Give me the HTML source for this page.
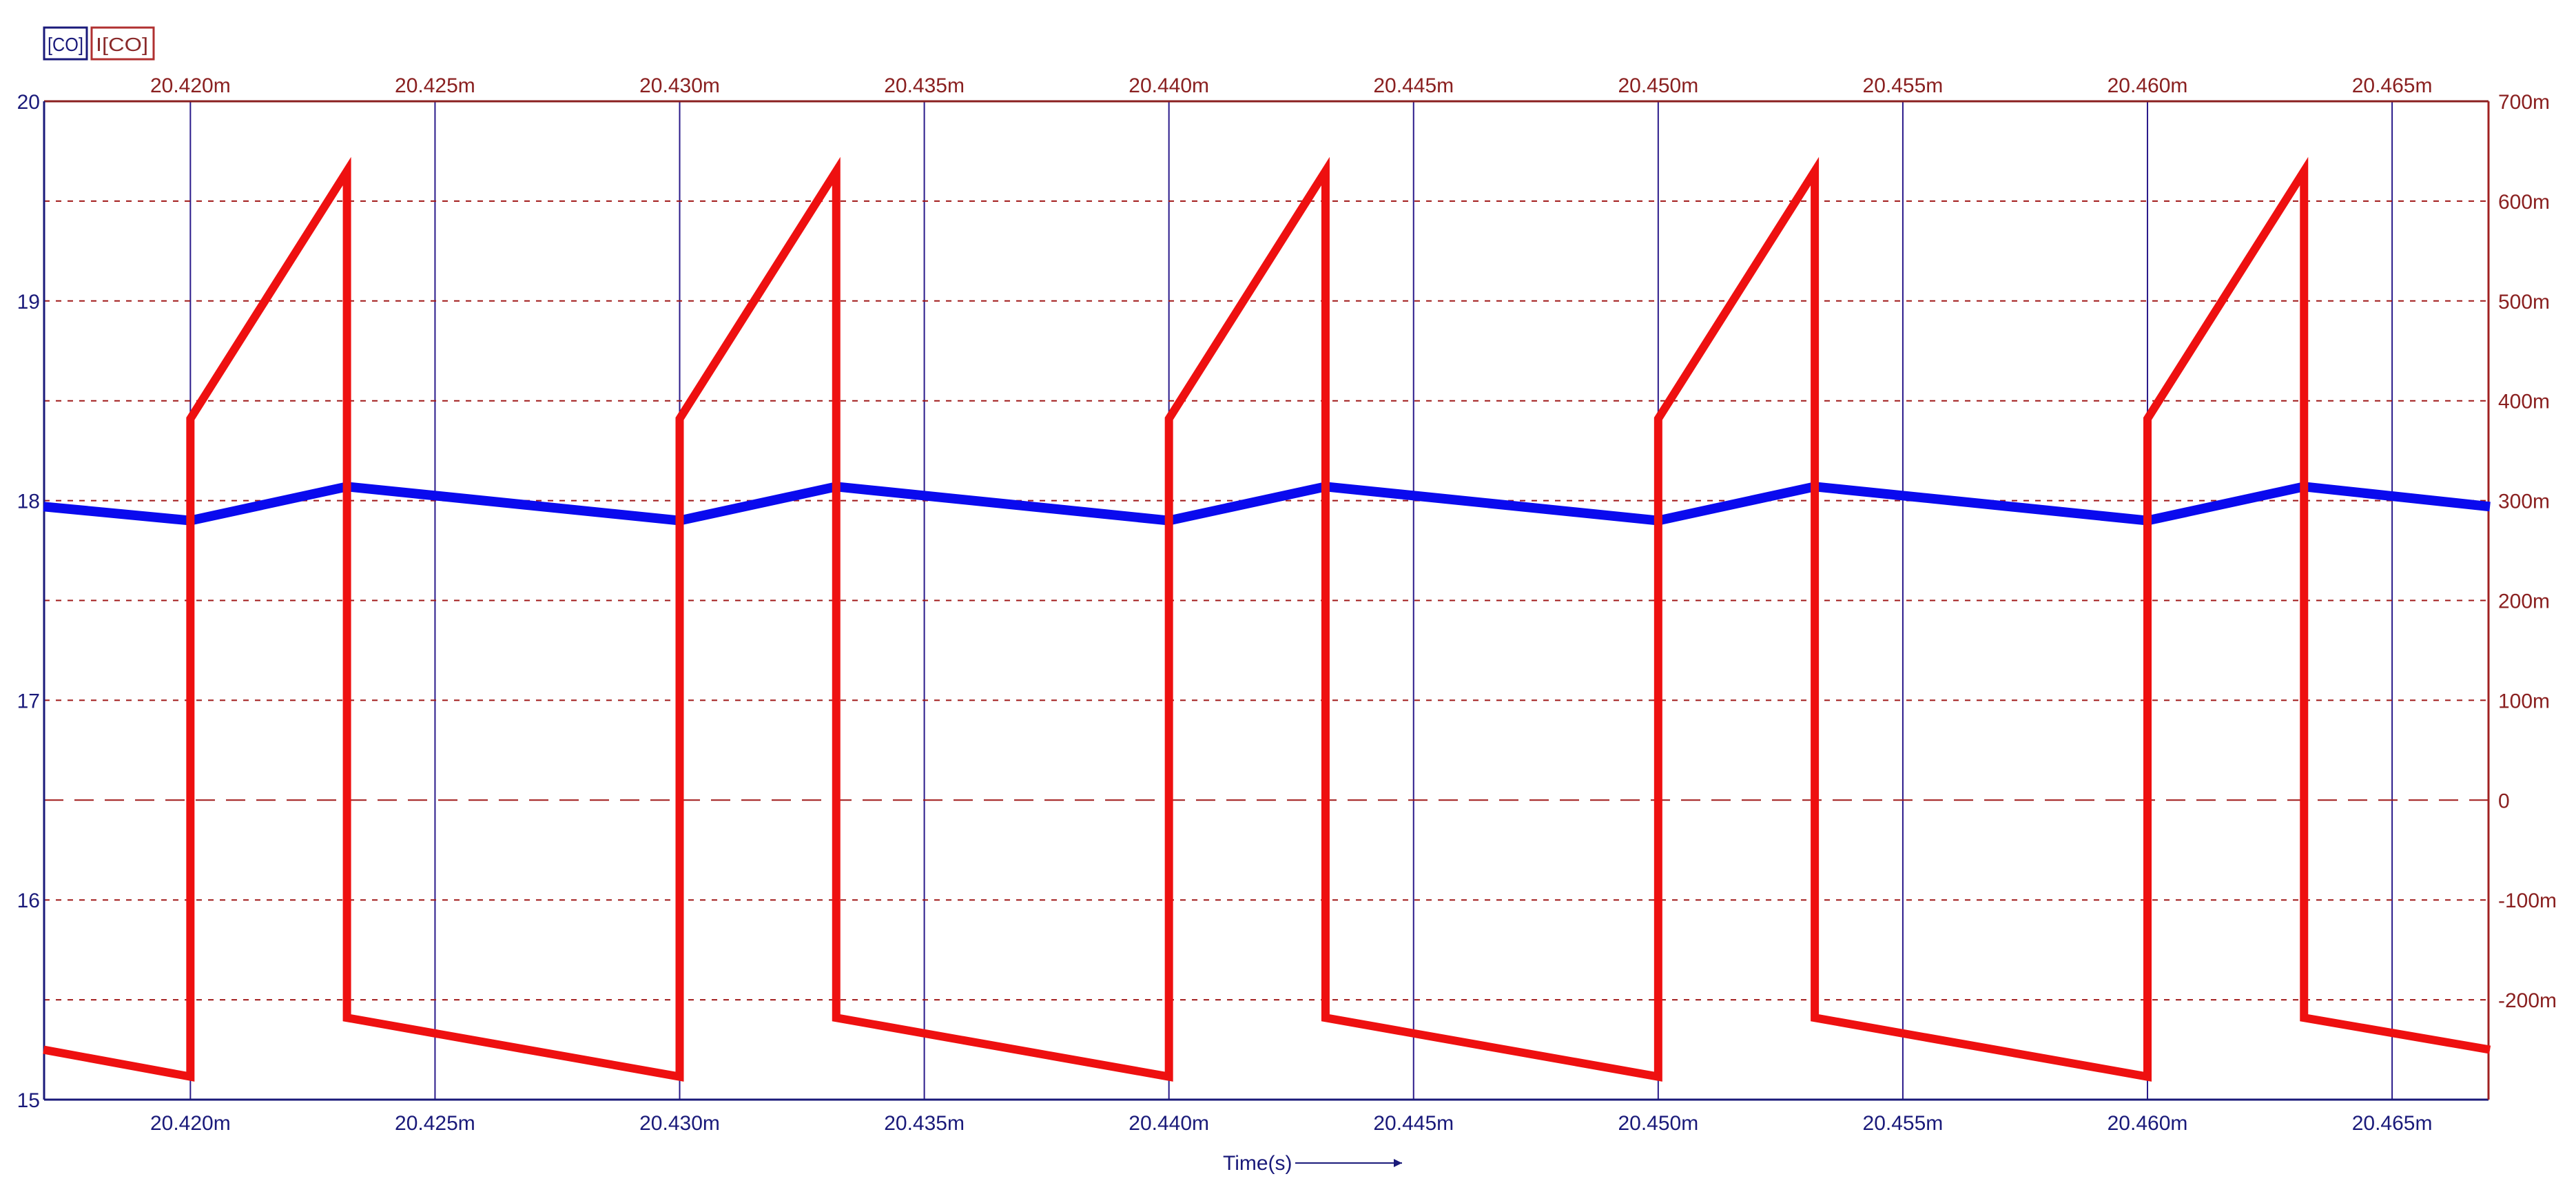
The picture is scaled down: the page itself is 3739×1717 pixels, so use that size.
<!DOCTYPE html>
<html><head><meta charset="utf-8"><style>
html,body{margin:0;padding:0;background:#fff;}
svg{display:block;font-family:"Liberation Sans",sans-serif;}
</style></head><body>
<svg id="chart" width="3739" height="1717" viewBox="0 0 3739 1717">
<g id="grid"></g>
<g id="axes"></g>
<g id="series"></g>
<g>
 <rect x="64" y="40" width="62" height="46" fill="none" stroke="#1a1a7a" stroke-width="3"/>
 <text x="69" y="74" font-size="28" fill="#1a1a7a" textLength="52" lengthAdjust="spacingAndGlyphs">[CO]</text>
 <rect x="133" y="40" width="90" height="46" fill="none" stroke="#b03030" stroke-width="3"/>
 <text x="139" y="74" font-size="28" fill="#8a2a2a" textLength="76" lengthAdjust="spacingAndGlyphs">I[CO]</text>
</g>
<text x="1775" y="1698" font-size="30" fill="#1a1a7a">Time(s)</text>
<line x1="1880" y1="1688" x2="2035" y2="1688" stroke="#1a1a7a" stroke-width="2"/>
<path d="M2035 1688 l-12 -6 v12 z" fill="#1a1a7a"/>
</svg>
<script>
const xTicks=[20.420,20.425,20.430,20.435,20.440,20.445,20.450,20.455,20.460,20.465];
const xTickLabels=["20.420m","20.425m","20.430m","20.435m","20.440m","20.445m","20.450m","20.455m","20.460m","20.465m"];
const leftTicks=[15,16,17,18,19,20];
const rightTicks=[-200,-100,0,100,200,300,400,500,600,700];
const rightTickLabels=["-200m","-100m","0","100m","200m","300m","400m","500m","600m","700m"];
const voltT=[20.417,20.420,20.4232,20.430,20.4332,20.440,20.4432,20.450,20.4532,20.460,20.4632,20.467];
const voltV=[17.97,17.90,18.07,17.90,18.07,17.90,18.07,17.90,18.07,17.90,18.07,17.97];
const currT=[20.417,20.420,20.420,20.4232,20.4232,20.430,20.430,20.4332,20.4332,20.440,20.440,20.4432,20.4432,20.450,20.450,20.4532,20.4532,20.460,20.460,20.4632,20.4632,20.467];
const currV=[-250,-277,382,630,-218,-277,382,630,-218,-277,382,630,-218,-277,382,630,-218,-277,382,630,-218,-250];

const L=64,R=3612,T=147,B=1596,t0=20.41701,t1=20.46697;
const xs=t=>L+(t-t0)/(t1-t0)*(R-L);
const yl=v=>B-(v-15)/5*(B-T);
const yr=v=>B-(v+300)/1000*(B-T);
const NS="http://www.w3.org/2000/svg";
function mk(tag,attrs,parent,txt){const e=document.createElementNS(NS,tag);for(const k in attrs)e.setAttribute(k,attrs[k]);if(txt!==undefined)e.textContent=txt;document.getElementById(parent).appendChild(e);return e;}

xTicks.forEach((t,i)=>{
 const x=xs(t);
 const g=mk('line',{x1:x,y1:T,x2:x,y2:B,stroke:'#2a1a8a','stroke-width':2},'grid');
 
 
 const a=mk('text',{x:x,y:134,'font-size':30,fill:'#8a2020','text-anchor':'middle'},'axes',xTickLabels[i]);
 
 
 const b=mk('text',{x:x,y:1640,'font-size':30,fill:'#1a1a7a','text-anchor':'middle'},'axes',xTickLabels[i]);
 
 
});
rightTicks.forEach((v,i)=>{
 const y=yr(v);
 if(v!==700){
  const g=mk('line',{x1:L,y1:y,x2:R,y2:y,stroke:'#a01818','stroke-width':2,'stroke-dasharray':v===0?'28 16':'8 9'},'grid');
  
  
 }
 const t=mk('text',{x:R+14,y:y+11,'font-size':30,fill:'#8a2020'},'axes',rightTickLabels[i]);
 
 
});
leftTicks.forEach(v=>{
 const t=mk('text',{x:L-6,y:yl(v)+11,'font-size':30,fill:'#1a1a7a','text-anchor':'end'},'axes',String(v));
 
 
});
[[L,T,R,T,'#8a2020','top-axis'],[L,B,R,B,'#1a1a7a','bottom-axis'],[L,T,L,B,'#1a1a7a','left-axis'],[R,T,R,B,'#a02020','right-axis']].forEach(a=>{
 const l=mk('line',{x1:a[0],y1:a[1],x2:a[2],y2:a[3],stroke:a[4],'stroke-width':3},'axes');
 
 
});
const vp=mk('polyline',{points:voltT.map((t,i)=>xs(t)+','+yl(voltV[i])).join(' '),fill:'none',stroke:'#0a0aee','stroke-width':14,'stroke-linejoin':'round'},'series');


const cp=mk('polyline',{points:currT.map((t,i)=>xs(t)+','+yr(currV[i])).join(' '),fill:'none',stroke:'#ee1010','stroke-width':12,'stroke-linejoin':'miter'},'series');


</script>
</body></html>
